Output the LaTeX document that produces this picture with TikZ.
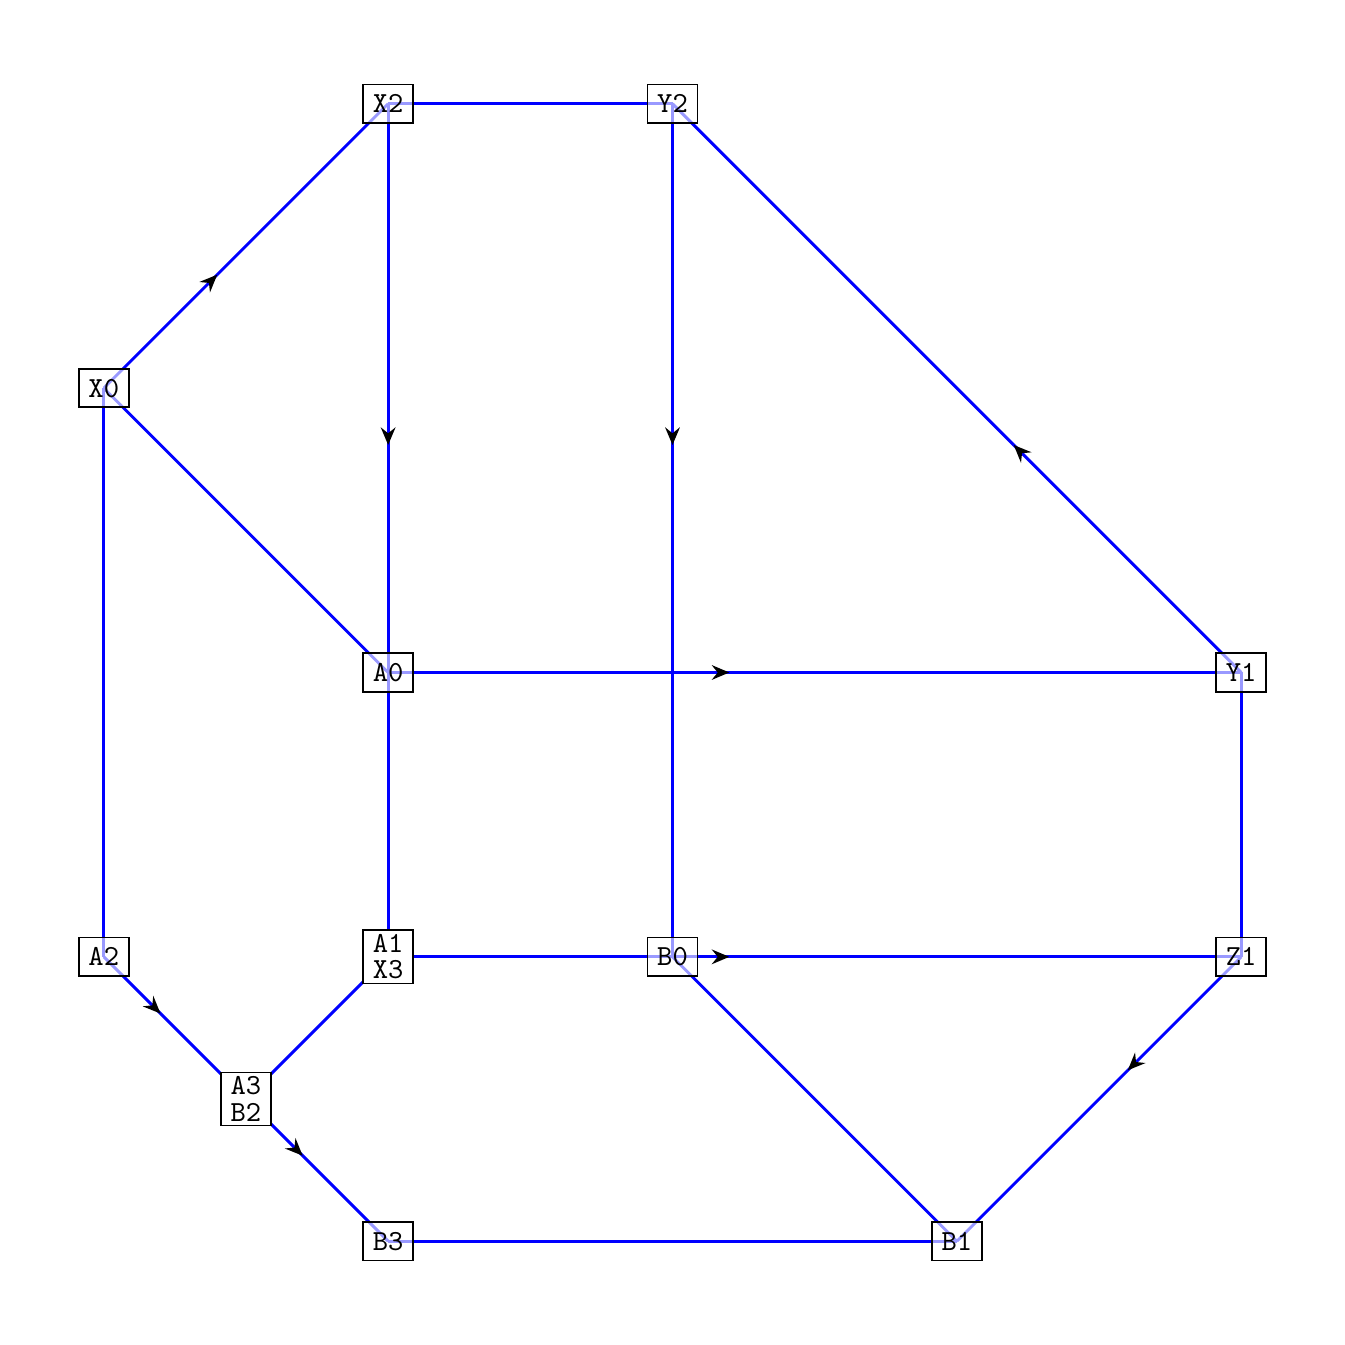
\documentclass[tikz,border=0pt]{standalone}
\usetikzlibrary{decorations.markings,arrows.meta}
\pgfdeclarelayer{bg}
\pgfsetlayers{bg,main}

\tikzstyle{vertex} = [draw, semithick, fill=white, fill opacity=0.6, text opacity=1, font=\ttfamily, inner sep=3.3pt, minimum height=13.2pt]
\tikzstyle{pair} = [vertex, fill opacity=1, align=center, inner ysep=1.5pt]
\tikzstyle{edge} = [blue, line width=1pt]
\tikzstyle{arc} = [edge, postaction={decorate}, decoration={markings, mark=at position 0.4 with {\arrow[black]{Stealth[length=6pt,width=5pt,inset=2pt]}}}]

\begin{document}
\begin{tikzpicture}[x=3.43cm, y=3.43cm]
      \useasboundingbox (-0.365,-0.365) rectangle (4.365,4.365);
      \node[vertex] (x0) at (0,3) {X0};
      \node[vertex] (x2) at (1,4) {X2};
      \node[vertex] (y2) at (2,4) {Y2};
      \node[vertex] (a0) at (1,2) {A0};
      \node[vertex] (y1) at (4,2) {Y1};
      \node[vertex] (a2) at (0,1) {A2};
      \node[pair] (a1) at (1,1) {A1\\[-3pt]X3};
      \node[vertex] (b0) at (2,1) {B0};
      \node[vertex] (z1) at (4,1) {Z1};
      \node[pair] (a3) at (0.5,0.5) {A3\\[-3pt]B2};
      \node[vertex] (b3) at (1,0) {B3};
      \node[vertex] (b1) at (3,0) {B1};

      \begin{pgfonlayer}{bg}
      \draw[arc] (x0.center) -- (x2.center);
      \draw[edge] (x2.center) -- (y2.center);
      \draw[arc] (x2.center) -- (a1.center);
      \draw[arc] (y2.center) -- (b0.center);
      \draw[arc] (y1.center) -- (y2.center);
      \draw[edge] (x0.center) -- (a0.center);
      \draw[edge] (x0.center) -- (a2.center);
      \draw[arc] (a0.center) -- (y1.center);
      \draw[edge] (y1.center) -- (z1.center);
      \draw[arc] (a1.center) -- (z1.center);
      \draw[edge] (a1.center) -- (b0.center);
      \draw[arc] (a2.center) -- (a3.center);
      \draw[edge] (a3.center) -- (a1.center);
      \draw[arc] (a3.center) -- (b3.center);
      \draw[edge] (b3.center) -- (b1.center);
      \draw[edge] (b0.center) -- (b1.center);
      \draw[arc] (z1.center) -- (b1.center);
      \end{pgfonlayer}
\end{tikzpicture}
\end{document}
